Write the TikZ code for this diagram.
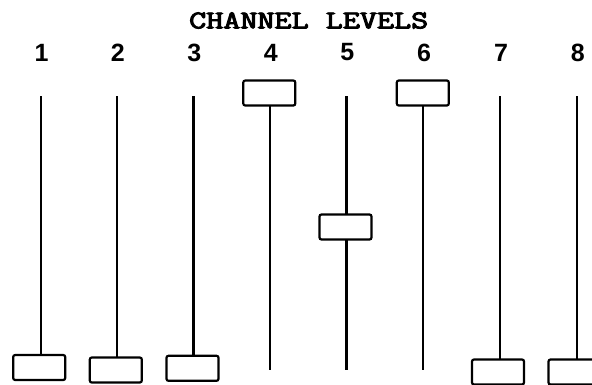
\documentclass[tikz,border=0pt]{standalone}
\usepackage{fontspec}
\newfontfamily\titlefont[FakeBold=3.5]{Latin Modern Mono}
\newfontfamily\numfont{Liberation Sans}
\begin{document}
\begin{tikzpicture}[x=1pt,y=-1pt,
  knob/.style={draw=black, line width=2.2pt, fill=white, rounded corners=2pt,
    minimum width=52pt, minimum height=25pt, inner sep=0pt},
  rail/.style={line width=2.4pt},
  chnum/.style={font=\numfont\bfseries\fontsize{25}{25}\selectfont, inner sep=0pt},
  ttl/.style={font=\titlefont\fontsize{25.5}{25.5}\selectfont, inner sep=0pt}]
\useasboundingbox (0,0) rectangle (592,384);
\node[ttl] (title) at (308.7,20.5) {\scalebox{1.3}[1]{CHANNEL LEVELS}};
% channel x positions
\foreach \i/\x in {1/40.7,2/116.9,3/193.3,4/269.7,5/346.3,6/423,7/500,8/576.7}{
  \node[chnum] (n\i) at (\x+1,52.5) {\i};
  \coordinate (t\i) at (\x,96);
  \coordinate (b\i) at (\x,370);
  \draw[rail] (t\i) -- (b\i);
}
\node[knob] (k1) at (39.2,367.5) {};
\node[knob] (k2) at (115.8,370) {};
\node[knob] (k3) at (192.5,368.3) {};
\node[knob] (k4) at (269.3,93) {};
\node[knob] (k5) at (345.5,227) {};
\node[knob] (k6) at (422.8,93) {};
\node[knob] (k7) at (498,372) {};
\node[knob] (k8) at (574.5,372) {};
\end{tikzpicture}
\end{document}
